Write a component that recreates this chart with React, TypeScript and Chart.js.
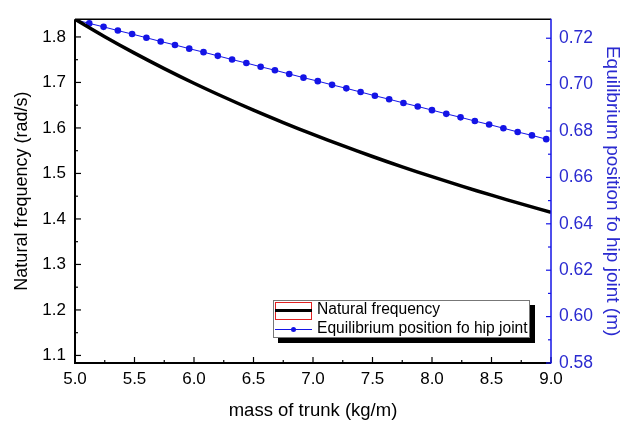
import React, { useEffect, useRef } from "react";
import { Chart, registerables } from "chart.js";

Chart.register(...registerables);

// ---- data ----
const massX = [5.0, 5.25, 5.5, 5.75, 6.0, 6.25, 6.5, 6.75, 7.0, 7.25, 7.5, 7.75, 8.0, 8.25, 8.5, 8.75, 9.0];
const naturalFreq = [1.839, 1.8006, 1.7645, 1.7305, 1.6983, 1.668, 1.6391, 1.6118, 1.5857, 1.5609, 1.5372, 1.5145, 1.4929, 1.4721, 1.4522, 1.433, 1.4146];

const eqMass = [5.0, 5.12, 5.24, 5.36, 5.48, 5.6, 5.72, 5.84, 5.96, 6.08, 6.2, 6.32, 6.44, 6.56, 6.68, 6.8, 6.92, 7.04, 7.16, 7.28, 7.4, 7.52, 7.64, 7.76, 7.88, 8.0, 8.12, 8.24, 8.36, 8.48, 8.6, 8.72, 8.84, 8.96];
const eqPos = [0.728, 0.7264, 0.7249, 0.7233, 0.7218, 0.7202, 0.7186, 0.7171, 0.7155, 0.714, 0.7124, 0.7108, 0.7093, 0.7077, 0.7062, 0.7046, 0.703, 0.7015, 0.6999, 0.6984, 0.6968, 0.6952, 0.6937, 0.6921, 0.6906, 0.689, 0.6874, 0.6859, 0.6843, 0.6828, 0.6812, 0.6796, 0.6781, 0.6765];

const xTicks = [5.0, 5.5, 6.0, 6.5, 7.0, 7.5, 8.0, 8.5, 9.0];
const xMinorTicks = [5.25, 5.75, 6.25, 6.75, 7.25, 7.75, 8.25, 8.75];
const leftTicks = [1.1, 1.2, 1.3, 1.4, 1.5, 1.6, 1.7, 1.8];
const leftMinorTicks = [1.15, 1.25, 1.35, 1.45, 1.55, 1.65, 1.75];
const rightTicks = [0.58, 0.6, 0.62, 0.64, 0.66, 0.68, 0.7, 0.72];
const rightMinorTicks = [0.59, 0.61, 0.63, 0.65, 0.67, 0.69, 0.71];

const seriesLabels = ["Natural frequency", "Equilibrium position fo hip joint"];
const xTitle = "mass of trunk (kg/m)";
const leftTitle = "Natural frequency (rad/s)";
const rightTitle = "Equilibrium position fo hip joint (m)";

const BLUE = "#1414e6";
const BLUE_TEXT = "#2a2ad0";
const FONT = "'Liberation Sans', Arial, sans-serif";

const framePlugin = {
  id: "frame",
  afterDatasetsDraw(chart: any) {
    const { ctx, chartArea: a, scales } = chart;
    const line = (x1: number, y1: number, x2: number, y2: number) => {
      ctx.beginPath();
      ctx.moveTo(x1, y1);
      ctx.lineTo(x2, y2);
      ctx.stroke();
    };
    ctx.save();
    ctx.strokeStyle = "#000";
    ctx.lineWidth = 1.5;
    line(a.left, a.top, a.right, a.top);
    ctx.lineWidth = 2;
    line(a.left, a.top, a.left, a.bottom + 1);
    line(a.left - 1, a.bottom, a.right, a.bottom);
    ctx.lineWidth = 1.2;
    xTicks.forEach((v) => {
      const px = scales.x.getPixelForValue(v);
      line(px, a.bottom, px, a.bottom - 6);
    });
    xMinorTicks.forEach((v) => {
      const px = scales.x.getPixelForValue(v);
      line(px, a.bottom, px, a.bottom - 3);
    });
    leftTicks.forEach((v) => {
      const py = scales.y.getPixelForValue(v);
      line(a.left, py, a.left + 6, py);
    });
    leftMinorTicks.forEach((v) => {
      const py = scales.y.getPixelForValue(v);
      line(a.left, py, a.left + 3, py);
    });
    ctx.strokeStyle = BLUE;
    ctx.lineWidth = 1.5;
    line(a.right, a.top - 0.5, a.right, a.bottom + 0.5);
    ctx.lineWidth = 1.2;
    rightTicks.forEach((v) => {
      const py = scales.y1.getPixelForValue(v);
      line(a.right, py, a.right - 5, py);
    });
    rightMinorTicks.forEach((v) => {
      const py = scales.y1.getPixelForValue(v);
      line(a.right, py, a.right - 3, py);
    });
    ctx.restore();
  },
};

const legendPlugin = {
  id: "boxLegend",
  afterDraw(chart: any) {
    const { ctx, chartArea: a } = chart;
    const w = 257;
    const h = 38;
    const x = a.right - 21 - w;
    const y = a.bottom - 25 - h;
    ctx.save();
    // shadow
    ctx.fillStyle = "#000";
    ctx.fillRect(x + 5, y + 5, w, h);
    ctx.fillStyle = "#fff";
    ctx.fillRect(x, y, w, h);
    ctx.strokeStyle = "#777";
    ctx.lineWidth = 1;
    ctx.strokeRect(x + 0.5, y + 0.5, w - 1, h - 1);
    // entry 1
    ctx.strokeStyle = "#e02020";
    ctx.lineWidth = 1;
    ctx.strokeRect(x + 2.5, y + 2.5, 36, 17);
    ctx.strokeStyle = "#000";
    ctx.lineWidth = 3;
    ctx.beginPath();
    ctx.moveTo(x + 2, y + 10.5);
    ctx.lineTo(x + 39, y + 10.5);
    ctx.stroke();
    // entry 2
    ctx.strokeStyle = BLUE;
    ctx.lineWidth = 1;
    ctx.beginPath();
    ctx.moveTo(x + 2, y + 29.5);
    ctx.lineTo(x + 39, y + 29.5);
    ctx.stroke();
    ctx.fillStyle = BLUE;
    ctx.beginPath();
    ctx.arc(x + 20.5, y + 29.5, 2.5, 0, Math.PI * 2);
    ctx.fill();
    // text
    ctx.fillStyle = "#000";
    ctx.font = `15.6px ${FONT}`;
    ctx.textBaseline = "middle";
    ctx.textAlign = "left";
    ctx.fillText(seriesLabels[0], x + 44, y + 10);
    ctx.fillText(seriesLabels[1], x + 44, y + 29);
    ctx.restore();
  },
};

export default function App() {
  const ref = useRef<HTMLCanvasElement>(null);
  useEffect(() => {
    if (!ref.current) return;
    const chart = new Chart(ref.current, {
      type: "line",
      data: {
        datasets: [
          {
            label: seriesLabels[0],
            data: massX.map((m, i) => ({ x: m, y: naturalFreq[i] })),
            borderColor: "#000",
            borderWidth: 3.5,
            pointRadius: 0,
            fill: false,
            tension: 0.3,
            yAxisID: "y",
          },
          {
            label: seriesLabels[1],
            data: eqMass.map((m, i) => ({ x: m, y: eqPos[i] })),
            borderColor: BLUE,
            backgroundColor: BLUE,
            borderWidth: 1,
            pointRadius: (c: any) => (c.dataIndex === 0 ? 0 : 3.3),
            pointBorderWidth: 0,
            pointBackgroundColor: BLUE,
            fill: false,
            yAxisID: "y1",
          },
        ],
      },
      options: {
        animation: false,
        responsive: true,
        maintainAspectRatio: false,
        layout: { padding: { top: 13, left: 0, right: 0, bottom: 0 } },
        plugins: { legend: { display: false }, tooltip: { enabled: false } },
        scales: {
          x: {
            type: "linear",
            min: 5,
            max: 9,
            grid: { display: false, drawTicks: false },
            border: { display: false },
            afterBuildTicks: (s: any) => {
              s.ticks = xTicks.map((v) => ({ value: v }));
            },
            afterFit: (s: any) => {
              s.height = 60;
            },
            ticks: {
              padding: 6,
              color: "#000",
              font: { family: FONT, size: 17 },
              maxRotation: 0,
              callback: (v: any) => Number(v).toFixed(1),
            },
            title: {
              display: true,
              text: xTitle,
              color: "#000",
              font: { family: FONT, size: 18.5 },
              padding: { top: 0, bottom: 1 },
            },
          },
          y: {
            type: "linear",
            position: "left",
            min: 1.0834,
            max: 1.839,
            grid: { display: false, drawTicks: false },
            border: { display: false },
            afterBuildTicks: (s: any) => {
              s.ticks = leftTicks.map((v) => ({ value: v }));
            },
            afterFit: (s: any) => {
              s.width = 75;
            },
            ticks: {
              padding: 9,
              color: "#000",
              font: { family: FONT, size: 17 },
              callback: (v: any) => Number(v).toFixed(1),
            },
            title: {
              display: true,
              text: leftTitle,
              color: "#000",
              font: { family: FONT, size: 18 },
              padding: { top: 11, bottom: 0 },
            },
          },
          y1: {
            type: "linear",
            position: "right",
            min: 0.58,
            max: 0.7282,
            grid: { display: false, drawTicks: false },
            border: { display: false },
            afterBuildTicks: (s: any) => {
              s.ticks = rightTicks.map((v) => ({ value: v }));
            },
            afterFit: (s: any) => {
              s.width = 86;
            },
            ticks: {
              padding: 8,
              color: BLUE_TEXT,
              font: { family: FONT, size: 17.5 },
              callback: (v: any) => Number(v).toFixed(2),
            },
            title: {
              display: true,
              text: rightTitle,
              color: BLUE_TEXT,
              font: { family: FONT, size: 19 },
              padding: { top: 13.5, bottom: 0 },
            },
          },
        },
      } as any,
      plugins: [framePlugin, legendPlugin],
    });
    return () => chart.destroy();
  }, []);

  return (
    <div style={{ position: "fixed", left: 0, top: 0, width: 637, height: 423, background: "#fff" }}>
      <canvas ref={ref} />
    </div>
  );
}
